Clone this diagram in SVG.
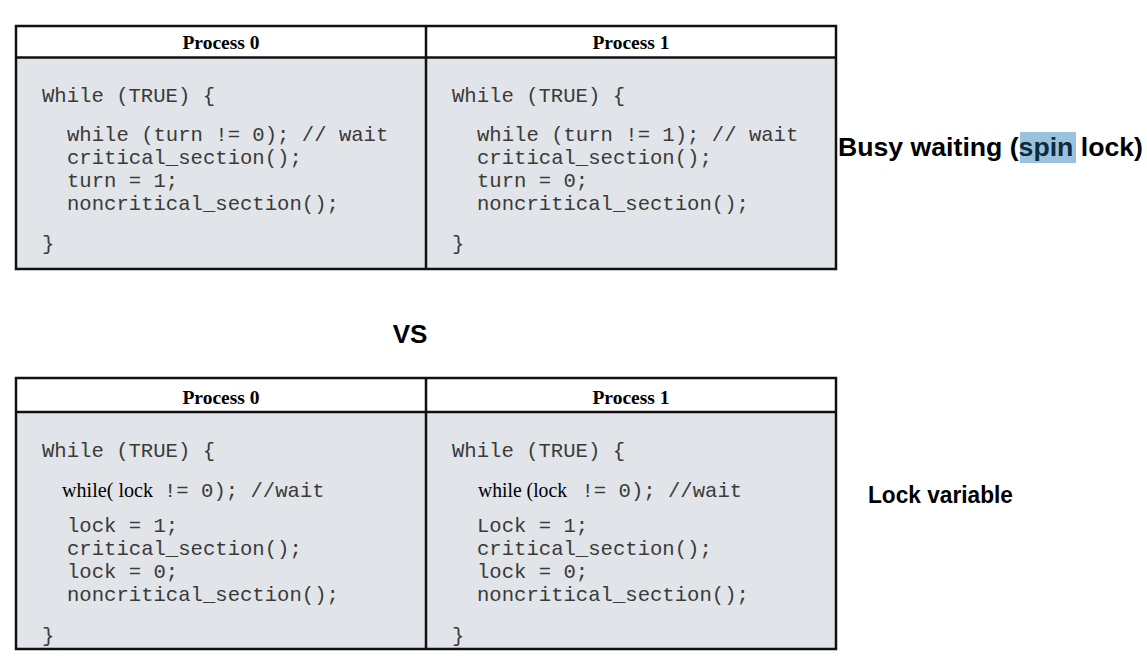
<svg xmlns="http://www.w3.org/2000/svg" width="1147" height="668" viewBox="0 0 1147 668">
<style>
.body{fill:#e1e4e8;stroke:none}
.head{fill:#ffffff;stroke:none}
.frame{fill:none;stroke:#111;stroke-width:2.5}
.hdr{font-family:"Liberation Serif","Times New Roman",serif;font-weight:bold;font-size:19.5px;fill:#000;text-anchor:middle}
.code{font-family:"Liberation Mono","Courier New",monospace;font-size:20.6px;fill:#3a3a3a}
.serif{font-family:"Liberation Serif","Times New Roman",serif;font-size:20.5px;fill:#000}
.lbl{font-family:"Liberation Sans",Arial,sans-serif;font-weight:bold;fill:#000}
</style>
<rect width="1147" height="668" fill="#ffffff"/>

<g id="busy-table">
  <rect class="head" x="16" y="26" width="820" height="32"/>
  <rect class="body" x="16" y="58" width="820" height="211"/>
  <rect class="frame" x="16" y="26" width="820" height="243"/>
  <line class="frame" x1="16" y1="57.5" x2="836" y2="57.5"/>
  <line class="frame" x1="426" y1="26" x2="426" y2="269"/>
  <text class="hdr" x="221" y="49">Process 0</text>
  <text class="hdr" x="631" y="49">Process 1</text>
  <g class="code">
    <text x="42" y="102">While (TRUE) {</text>
    <text x="67" y="141">while (turn != 0); // wait</text>
    <text x="67" y="164">critical_section();</text>
    <text x="67" y="187">turn = 1;</text>
    <text x="67" y="210">noncritical_section();</text>
    <text x="42" y="250">}</text>
    <text x="452" y="102">While (TRUE) {</text>
    <text x="477" y="141">while (turn != 1); // wait</text>
    <text x="477" y="164">critical_section();</text>
    <text x="477" y="187">turn = 0;</text>
    <text x="477" y="210">noncritical_section();</text>
    <text x="452" y="250">}</text>
  </g>
</g>

<g id="busy-label">
  <rect x="1020" y="132" width="56" height="31" fill="#9bc2dc"/>
  <text class="lbl" x="838" y="156" font-size="25.5" textLength="305" lengthAdjust="spacingAndGlyphs">Busy waiting (<tspan fill="#0e2a3e">spin</tspan> lock)</text>
</g>

<g id="vs-label">
  <text class="lbl" x="410" y="343" font-size="26" text-anchor="middle">VS</text>
</g>

<g id="lock-table">
  <rect class="head" x="16" y="378" width="820" height="34"/>
  <rect class="body" x="16" y="412" width="820" height="237"/>
  <rect class="frame" x="16" y="378" width="820" height="271"/>
  <line class="frame" x1="16" y1="412" x2="836" y2="412"/>
  <line class="frame" x1="426" y1="378" x2="426" y2="649"/>
  <text class="hdr" x="221" y="404">Process 0</text>
  <text class="hdr" x="631" y="404">Process 1</text>
  <text class="serif" x="62" y="497" textLength="91" lengthAdjust="spacingAndGlyphs">while( lock</text>
  <text class="serif" x="478" y="497" textLength="89" lengthAdjust="spacingAndGlyphs">while (lock</text>
  <g class="code">
    <text x="42" y="457">While (TRUE) {</text>
    <text x="164" y="497">!= 0); //wait</text>
    <text x="67" y="532">lock = 1;</text>
    <text x="67" y="555">critical_section();</text>
    <text x="67" y="578">lock = 0;</text>
    <text x="67" y="601">noncritical_section();</text>
    <text x="42" y="642">}</text>
    <text x="452" y="457">While (TRUE) {</text>
    <text x="581.5" y="497">!= 0); //wait</text>
    <text x="477" y="532">Lock = 1;</text>
    <text x="477" y="555">critical_section();</text>
    <text x="477" y="578">lock = 0;</text>
    <text x="477" y="601">noncritical_section();</text>
    <text x="452" y="642">}</text>
  </g>
</g>

<g id="lock-label">
  <text class="lbl" x="868" y="503" font-size="23" textLength="145" lengthAdjust="spacingAndGlyphs">Lock variable</text>
</g>

<g id="connectors"></g>
</svg>
